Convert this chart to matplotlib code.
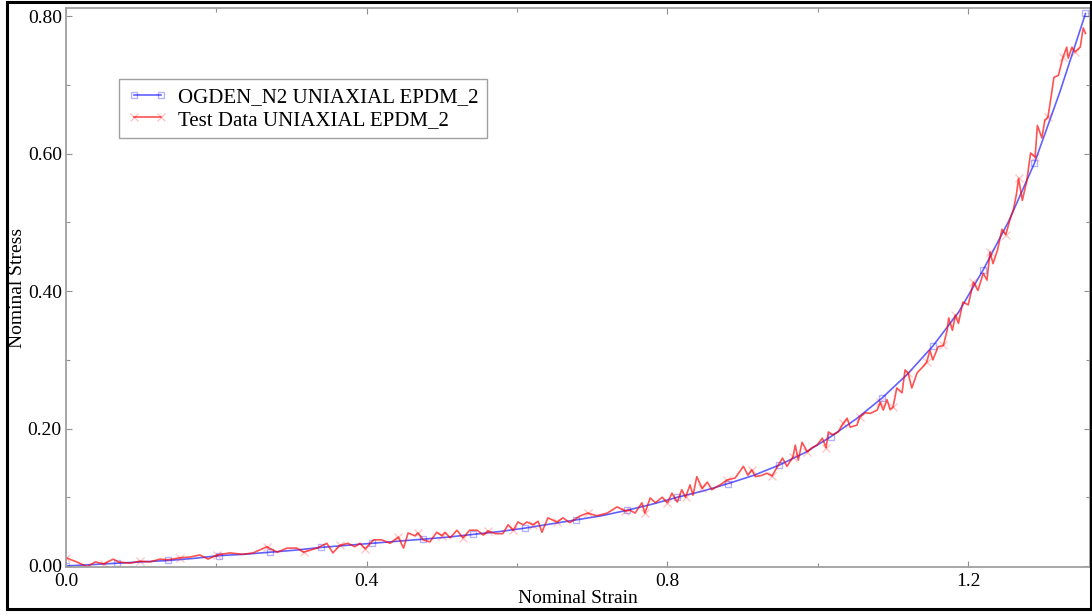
import numpy as np
import matplotlib
matplotlib.use("Agg")
import matplotlib.pyplot as plt
from matplotlib.patches import Rectangle
from matplotlib.ticker import MultipleLocator, FormatStrFormatter

# Ogden N=2 fit
ogden_strain = [0.000, 0.034, 0.068, 0.102, 0.136, 0.170, 0.203, 0.237, 0.271, 0.305,
                0.339, 0.373, 0.407, 0.441, 0.475, 0.508, 0.542, 0.576, 0.610, 0.644,
                0.678, 0.712, 0.746, 0.780, 0.813, 0.847, 0.881, 0.915, 0.949, 0.983,
                1.017, 1.051, 1.085, 1.119, 1.153, 1.187, 1.220, 1.254, 1.288, 1.322,
                1.356]
ogden_stress = [0.000, 0.002, 0.004, 0.006, 0.008, 0.011, 0.015, 0.017, 0.020, 0.023,
                0.027, 0.030, 0.033, 0.036, 0.039, 0.042, 0.046, 0.050, 0.055, 0.061,
                0.067, 0.073, 0.081, 0.090, 0.100, 0.109, 0.120, 0.132, 0.147, 0.165,
                0.188, 0.214, 0.244, 0.279, 0.320, 0.369, 0.431, 0.502, 0.586, 0.690,
                0.804]

# test data, uniaxial EPDM_2
test_strain = [0.000, 0.014, 0.028, 0.039, 0.050, 0.063, 0.069, 0.085, 0.098, 0.112,
               0.125, 0.136, 0.152, 0.165, 0.178, 0.189, 0.201, 0.218, 0.235, 0.249,
               0.267, 0.281, 0.294, 0.307, 0.316, 0.334, 0.347, 0.355, 0.364, 0.375,
               0.384, 0.391, 0.398, 0.409, 0.420, 0.431, 0.442, 0.449, 0.455, 0.464,
               0.468, 0.475, 0.484, 0.493, 0.500, 0.504, 0.511, 0.520, 0.528, 0.537,
               0.547, 0.555, 0.561, 0.571, 0.581, 0.588, 0.595, 0.601, 0.608, 0.613,
               0.621, 0.628, 0.633, 0.641, 0.653, 0.661, 0.670, 0.684, 0.694, 0.706,
               0.720, 0.733, 0.744, 0.750, 0.757, 0.766, 0.770, 0.777, 0.784, 0.793,
               0.800, 0.806, 0.813, 0.819, 0.824, 0.830, 0.834, 0.839, 0.846, 0.853,
               0.859, 0.870, 0.879, 0.890, 0.901, 0.907, 0.912, 0.917, 0.926, 0.932,
               0.939, 0.946, 0.953, 0.959, 0.967, 0.970, 0.974, 0.979, 0.986, 0.992,
               0.999, 1.006, 1.011, 1.014, 1.020, 1.027, 1.034, 1.039, 1.043, 1.052,
               1.056, 1.063, 1.070, 1.079, 1.083, 1.087, 1.092, 1.096, 1.100, 1.105,
               1.112, 1.116, 1.120, 1.125, 1.132, 1.139, 1.145, 1.149, 1.153, 1.160,
               1.167, 1.172, 1.174, 1.179, 1.183, 1.187, 1.193, 1.200, 1.207, 1.213,
               1.220, 1.225, 1.229, 1.233, 1.239, 1.245, 1.250, 1.256, 1.260, 1.264,
               1.267, 1.272, 1.278, 1.283, 1.289, 1.292, 1.298, 1.302, 1.306, 1.310,
               1.314, 1.320, 1.326, 1.331, 1.333, 1.338, 1.342, 1.349, 1.353, 1.356]
test_stress = [0.012, 0.006, -0.001, 0.006, 0.003, 0.010, 0.006, 0.004, 0.007, 0.006,
               0.010, 0.009, 0.012, 0.013, 0.016, 0.010, 0.016, 0.019, 0.017, 0.019,
               0.028, 0.020, 0.026, 0.026, 0.020, 0.026, 0.033, 0.019, 0.030, 0.033,
               0.028, 0.033, 0.025, 0.038, 0.038, 0.033, 0.042, 0.026, 0.048, 0.044,
               0.048, 0.038, 0.035, 0.049, 0.044, 0.049, 0.041, 0.052, 0.041, 0.052,
               0.052, 0.045, 0.051, 0.047, 0.047, 0.060, 0.052, 0.064, 0.060, 0.064,
               0.060, 0.065, 0.049, 0.070, 0.064, 0.070, 0.063, 0.073, 0.077, 0.073,
               0.077, 0.086, 0.080, 0.081, 0.077, 0.092, 0.077, 0.099, 0.092, 0.100,
               0.092, 0.106, 0.093, 0.111, 0.100, 0.118, 0.103, 0.130, 0.113, 0.122,
               0.111, 0.118, 0.125, 0.128, 0.145, 0.132, 0.140, 0.130, 0.132, 0.135,
               0.131, 0.144, 0.157, 0.145, 0.159, 0.176, 0.154, 0.180, 0.166, 0.172,
               0.176, 0.186, 0.172, 0.195, 0.191, 0.195, 0.208, 0.215, 0.202, 0.205,
               0.217, 0.223, 0.222, 0.227, 0.238, 0.227, 0.242, 0.228, 0.231, 0.259,
               0.252, 0.285, 0.281, 0.259, 0.281, 0.289, 0.297, 0.314, 0.300, 0.319,
               0.321, 0.343, 0.361, 0.343, 0.365, 0.353, 0.384, 0.380, 0.413, 0.401,
               0.426, 0.416, 0.457, 0.440, 0.460, 0.490, 0.482, 0.506, 0.518, 0.540,
               0.564, 0.532, 0.561, 0.601, 0.595, 0.641, 0.623, 0.649, 0.653, 0.681,
               0.711, 0.714, 0.740, 0.755, 0.739, 0.755, 0.748, 0.755, 0.783, 0.775]

plt.rcParams['font.family'] = ['Liberation Serif', 'DejaVu Serif']

fig = plt.figure(figsize=(10.92, 6.15), dpi=100)
W, H = 1092.0, 615.0
ax = fig.add_axes([66 / W, 1 - 567 / H, (1090 - 66) / W, (567 - 8) / H])

ax.plot(ogden_strain, ogden_stress, color=(0, 0, 1, 0.62), lw=1.2,
        marker='s', ms=5, mfc='none', mec=(0, 0, 1, 0.3), mew=1.0,
        markevery=2, label='OGDEN_N2 UNIAXIAL EPDM_2')
ax.plot(test_strain, test_stress, color=(1, 0, 0, 0.68), lw=1.2,
        marker='x', ms=6, mec=(1, 0, 0, 0.22), mew=1.0,
        markevery=4, label='Test Data UNIAXIAL EPDM_2')

ax.set_xlim(0.0, 1.362)
ax.set_ylim(-0.0015, 0.812)
ax.xaxis.set_major_locator(MultipleLocator(0.4))
ax.xaxis.set_minor_locator(MultipleLocator(0.2))
ax.yaxis.set_major_locator(MultipleLocator(0.2))
ax.yaxis.set_minor_locator(MultipleLocator(0.1))
ax.xaxis.set_major_formatter(FormatStrFormatter('%.1f'))
ax.yaxis.set_major_formatter(FormatStrFormatter('%.2f'))

for s in ax.spines.values():
    s.set_color('#a0a0a0')
    s.set_linewidth(1.3)
ax.tick_params(which='both', direction='in', top=True, right=True,
               color='#909090', labelsize=14)
ax.tick_params(axis='y', pad=3)
ax.tick_params(axis='x', pad=4)
ax.tick_params(which='major', length=4.5, width=0.8)
ax.tick_params(which='minor', length=3, width=0.8)

ax.set_xlabel('Nominal Strain', fontsize=14, labelpad=0)
ax.set_ylabel('Nominal Stress', fontsize=14, labelpad=1)

leg = ax.legend(loc='upper left', bbox_to_anchor=(119 / W, 1 - 79 / H),
                bbox_transform=fig.transFigure, borderaxespad=0,
                fontsize=15, fancybox=False, framealpha=1, numpoints=2,
                handlelength=1.9, handletextpad=0.55, borderpad=0.4,
                labelspacing=0.15)
leg.get_frame().set_edgecolor('#a0a0a0')
leg.get_frame().set_linewidth(1.0)

# black frame around the whole picture
fig.patches.append(Rectangle((7 / W, 1 - 609 / H), (1091 - 7) / W, (609 - 2) / H,
                             transform=fig.transFigure, fill=False,
                             edgecolor='black', lw=2.2, zorder=10))

fig.savefig('out.png', dpi=100)
